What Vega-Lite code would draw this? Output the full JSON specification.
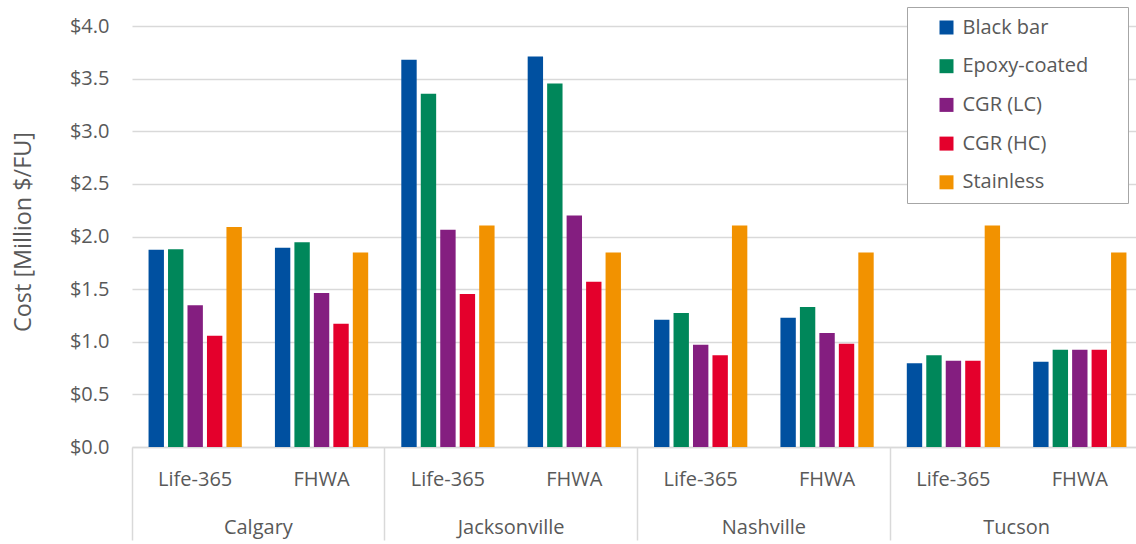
{
  "$schema": "https://vega.github.io/schema/vega-lite/v6.json",
  "autosize": {"type": "none"},
  "width": 1011,
  "height": 421,
  "padding": {"left": 132, "top": 26, "right": -7, "bottom": 97},
  "background": "white",
  "config": {
    "font": "Open Sans",
    "view": {"stroke": null},
    "axis": {"labelColor": "#595959", "titleColor": "#595959", "labelFont": "Open Sans", "titleFont": "Open Sans"},
    "legend": {"labelFont": "Open Sans", "titleFont": "Open Sans"}
  },
  "data": {
    "values": [
      {"city": "Calgary", "model": "Life-365", "key": "Calgary Life-365", "material": "Black bar", "cost": 1.873},
      {"city": "Calgary", "model": "Life-365", "key": "Calgary Life-365", "material": "Epoxy-coated", "cost": 1.878},
      {"city": "Calgary", "model": "Life-365", "key": "Calgary Life-365", "material": "CGR (LC)", "cost": 1.346},
      {"city": "Calgary", "model": "Life-365", "key": "Calgary Life-365", "material": "CGR (HC)", "cost": 1.058},
      {"city": "Calgary", "model": "Life-365", "key": "Calgary Life-365", "material": "Stainless", "cost": 2.091},
      {"city": "Calgary", "model": "FHWA", "key": "Calgary FHWA", "material": "Black bar", "cost": 1.892},
      {"city": "Calgary", "model": "FHWA", "key": "Calgary FHWA", "material": "Epoxy-coated", "cost": 1.945},
      {"city": "Calgary", "model": "FHWA", "key": "Calgary FHWA", "material": "CGR (LC)", "cost": 1.464},
      {"city": "Calgary", "model": "FHWA", "key": "Calgary FHWA", "material": "CGR (HC)", "cost": 1.172},
      {"city": "Calgary", "model": "FHWA", "key": "Calgary FHWA", "material": "Stainless", "cost": 1.847},
      {"city": "Jacksonville", "model": "Life-365", "key": "Jacksonville Life-365", "material": "Black bar", "cost": 3.679},
      {"city": "Jacksonville", "model": "Life-365", "key": "Jacksonville Life-365", "material": "Epoxy-coated", "cost": 3.356},
      {"city": "Jacksonville", "model": "Life-365", "key": "Jacksonville Life-365", "material": "CGR (LC)", "cost": 2.063},
      {"city": "Jacksonville", "model": "Life-365", "key": "Jacksonville Life-365", "material": "CGR (HC)", "cost": 1.454},
      {"city": "Jacksonville", "model": "Life-365", "key": "Jacksonville Life-365", "material": "Stainless", "cost": 2.104},
      {"city": "Jacksonville", "model": "FHWA", "key": "Jacksonville FHWA", "material": "Black bar", "cost": 3.71},
      {"city": "Jacksonville", "model": "FHWA", "key": "Jacksonville FHWA", "material": "Epoxy-coated", "cost": 3.453},
      {"city": "Jacksonville", "model": "FHWA", "key": "Jacksonville FHWA", "material": "CGR (LC)", "cost": 2.199},
      {"city": "Jacksonville", "model": "FHWA", "key": "Jacksonville FHWA", "material": "CGR (HC)", "cost": 1.571},
      {"city": "Jacksonville", "model": "FHWA", "key": "Jacksonville FHWA", "material": "Stainless", "cost": 1.847},
      {"city": "Nashville", "model": "Life-365", "key": "Nashville Life-365", "material": "Black bar", "cost": 1.21},
      {"city": "Nashville", "model": "Life-365", "key": "Nashville Life-365", "material": "Epoxy-coated", "cost": 1.274},
      {"city": "Nashville", "model": "Life-365", "key": "Nashville Life-365", "material": "CGR (LC)", "cost": 0.972},
      {"city": "Nashville", "model": "Life-365", "key": "Nashville Life-365", "material": "CGR (HC)", "cost": 0.871},
      {"city": "Nashville", "model": "Life-365", "key": "Nashville Life-365", "material": "Stainless", "cost": 2.104},
      {"city": "Nashville", "model": "FHWA", "key": "Nashville FHWA", "material": "Black bar", "cost": 1.229},
      {"city": "Nashville", "model": "FHWA", "key": "Nashville FHWA", "material": "Epoxy-coated", "cost": 1.331},
      {"city": "Nashville", "model": "FHWA", "key": "Nashville FHWA", "material": "CGR (LC)", "cost": 1.084},
      {"city": "Nashville", "model": "FHWA", "key": "Nashville FHWA", "material": "CGR (HC)", "cost": 0.982},
      {"city": "Nashville", "model": "FHWA", "key": "Nashville FHWA", "material": "Stainless", "cost": 1.847},
      {"city": "Tucson", "model": "Life-365", "key": "Tucson Life-365", "material": "Black bar", "cost": 0.795},
      {"city": "Tucson", "model": "Life-365", "key": "Tucson Life-365", "material": "Epoxy-coated", "cost": 0.871},
      {"city": "Tucson", "model": "Life-365", "key": "Tucson Life-365", "material": "CGR (LC)", "cost": 0.82},
      {"city": "Tucson", "model": "Life-365", "key": "Tucson Life-365", "material": "CGR (HC)", "cost": 0.82},
      {"city": "Tucson", "model": "Life-365", "key": "Tucson Life-365", "material": "Stainless", "cost": 2.104},
      {"city": "Tucson", "model": "FHWA", "key": "Tucson FHWA", "material": "Black bar", "cost": 0.811},
      {"city": "Tucson", "model": "FHWA", "key": "Tucson FHWA", "material": "Epoxy-coated", "cost": 0.925},
      {"city": "Tucson", "model": "FHWA", "key": "Tucson FHWA", "material": "CGR (LC)", "cost": 0.925},
      {"city": "Tucson", "model": "FHWA", "key": "Tucson FHWA", "material": "CGR (HC)", "cost": 0.925},
      {"city": "Tucson", "model": "FHWA", "key": "Tucson FHWA", "material": "Stainless", "cost": 1.847}
    ]
  },
  "layer": [
    {
      "mark": {"type": "bar"},
      "encoding": {
        "x": {
          "field": "key", "type": "nominal",
          "sort": ["Calgary Life-365", "Calgary FHWA", "Jacksonville Life-365", "Jacksonville FHWA", "Nashville Life-365", "Nashville FHWA", "Tucson Life-365", "Tucson FHWA"],
          "scale": {"paddingInner": 0, "paddingOuter": 0},
          "axis": {
            "orient": "bottom", "title": null, "labelAngle": 0, "ticks": false,
            "domainColor": "#d9d9d9", "domainWidth": 1.5,
            "labelExpr": "split(datum.value, ' ')[1]",
            "labelFontSize": 20, "labelBaseline": "middle", "labelPadding": 32
          }
        },
        "xOffset": {
          "field": "material", "type": "nominal",
          "sort": ["Black bar", "Epoxy-coated", "CGR (LC)", "CGR (HC)", "Stainless"],
          "scale": {"paddingInner": 0.21, "paddingOuter": 0.85}
        },
        "y": {
          "field": "cost", "type": "quantitative",
          "scale": {"domain": [0, 4], "nice": false},
          "axis": {
            "title": "Cost [Million $/FU]", "values": [0, 0.5, 1, 1.5, 2, 2.5, 3, 3.5, 4],
            "format": "$.1f", "domain": false, "ticks": false,
            "gridColor": "#d9d9d9", "gridWidth": 1.5,
            "labelFontSize": 20, "labelPadding": 23,
            "titleFontSize": 23.4, "titleFontWeight": "normal",
            "titleX": -109, "titleY": 205.5, "titleBaseline": "middle", "titleAngle": -90
          }
        },
        "color": {
          "field": "material", "type": "nominal",
          "sort": ["Black bar", "Epoxy-coated", "CGR (LC)", "CGR (HC)", "Stainless"],
          "scale": {"domain": ["Black bar", "Epoxy-coated", "CGR (LC)", "CGR (HC)", "Stainless"], "range": ["#0050A0", "#00875A", "#841E80", "#E4002C", "#F29200"]},
          "legend": {
            "title": "\u00a0", "titleOrient": "right", "titlePadding": 29, "titleFontSize": 6,
            "orient": "none", "legendX": 775, "legendY": -19,
            "symbolType": "square", "symbolSize": 196, "symbolStrokeWidth": 0,
            "labelFontSize": 20, "labelColor": "#595959", "labelOffset": 6,
            "rowPadding": 18.7, "padding": 10.5, "symbolOffset": 19,
            "strokeColor": "#a6a6a6", "fillColor": "white"
          }
        }
      }
    },
    {
      "mark": {"type": "point", "opacity": 0},
      "encoding": {
        "x": {
          "field": "city", "type": "nominal",
          "sort": ["Calgary", "Jacksonville", "Nashville", "Tucson"],
          "scale": {"type": "band", "paddingInner": 0, "paddingOuter": 0},
          "axis": {
            "orient": "bottom", "title": null, "labelAngle": 0, "domain": false,
            "ticks": true, "bandPosition": 0, "tickSize": 93, "tickColor": "#d9d9d9", "tickWidth": 1.5,
            "labelFontSize": 20, "labelBaseline": "middle", "labelPadding": -13
          }
        },
        "y": {"field": "cost", "type": "quantitative"}
      }
    }
  ],
  "resolve": {"scale": {"x": "independent"}, "axis": {"x": "independent"}}
}
